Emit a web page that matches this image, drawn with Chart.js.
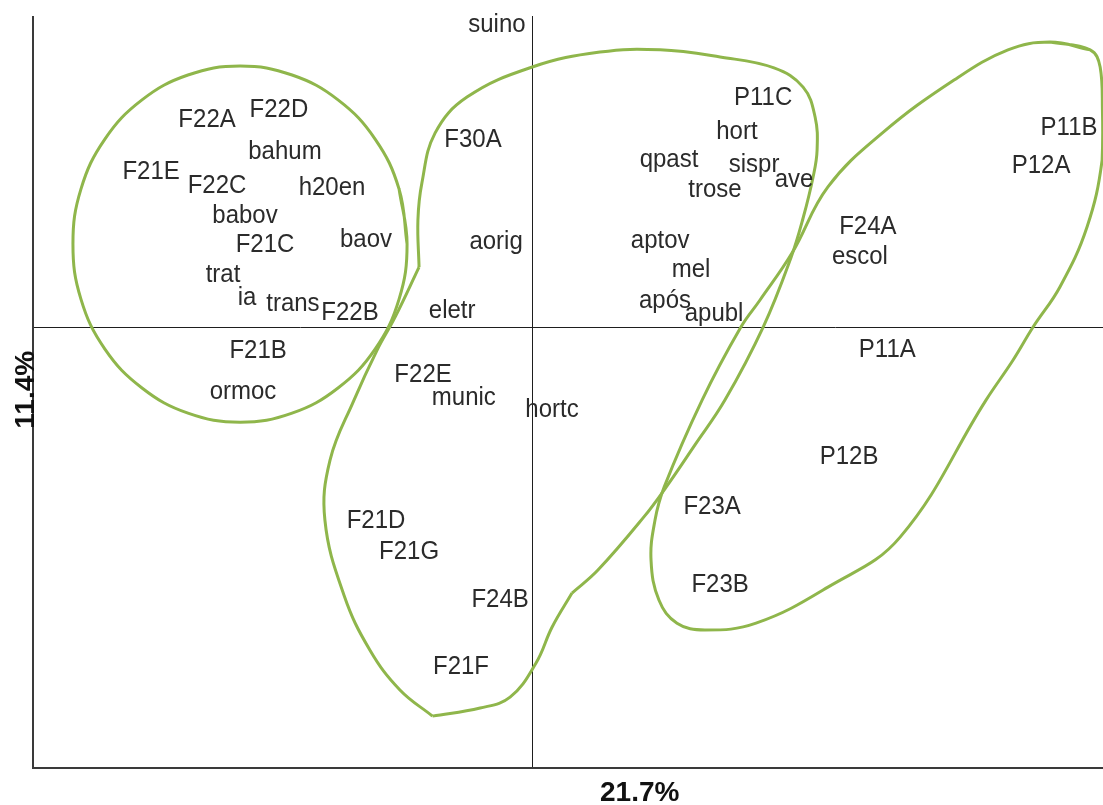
<!DOCTYPE html>
<html>
<head>
<meta charset="utf-8">
<script src="https://cdn.jsdelivr.net/npm/chart.js@4/dist/chart.umd.min.js"></script>
<style>
  html, body { margin: 0; padding: 0; background: #ffffff; }
  #wrap { width: 1103px; height: 805px; }
</style>
</head>
<body>
<div id="wrap"><canvas id="plot" width="1103" height="805"></canvas></div>
<script>
// Correspondence map: row and column points on the first two dimensions
const dimLabelX = '21.7%';
const dimLabelY = '11.4%';

const pointNames = [
  'suino', 'F22A', 'F22D', 'bahum', 'F21E', 'F22C', 'h20en', 'babov', 'F21C', 'baov',
  'trat', 'ia', 'trans', 'F22B', 'F30A', 'aorig', 'eletr', 'F21B', 'ormoc', 'F22E',
  'munic', 'hortc', 'F21D', 'F21G', 'F24B', 'F21F', 'P11C', 'hort', 'qpast', 'sispr',
  'ave', 'trose', 'aptov', 'mel', 'após', 'apubl', 'F24A', 'escol', 'P11B', 'P12A',
  'P11A', 'P12B', 'F23A', 'F23B'
];
const dim1 = [
  -0.124, -1.140, -0.888, -0.867, -1.336, -1.105, -0.702, -1.007, -0.937, -0.583,
  -1.084, -1.000, -0.839, -0.639, -0.208, -0.127, -0.281, -0.961, -1.014, -0.383,
  -0.240, 0.069, -0.548, -0.432, -0.113, -0.250, 0.809, 0.717, 0.479, 0.777,
  0.917, 0.640, 0.448, 0.556, 0.465, 0.637, 1.176, 1.148, 1.881, 1.783,
  1.244, 1.110, 0.630, 0.658
];
const dim2 = [
  0.971, 0.667, 0.697, 0.562, 0.498, 0.453, 0.447, 0.356, 0.263, 0.279,
  0.166, 0.092, 0.073, 0.044, 0.601, 0.273, 0.051, -0.078, -0.210, -0.155,
  -0.229, -0.268, -0.625, -0.725, -0.880, -1.095, 0.736, 0.627, 0.536, 0.520,
  0.472, 0.440, 0.276, 0.182, 0.083, 0.041, 0.321, 0.224, 0.640, 0.517,
  -0.075, -0.419, -0.580, -0.831
];

// Hand-drawn group outlines (dimension units)
// Group A: round loop on the left
const groupAX = [-0.439, -0.467, -0.551, -0.681, -0.842, -1.024, -1.207, -1.368, -1.498, -1.582,
                 -1.610, -1.582, -1.498, -1.368, -1.207, -1.024, -0.842, -0.681, -0.551, -0.467,
                 -0.439, -0.467];
const groupAY = [0.266, 0.443, 0.604, 0.730, 0.810, 0.839, 0.810, 0.730, 0.604, 0.443,
                 0.266, 0.089, -0.072, -0.197, -0.278, -0.307, -0.278, -0.197, -0.072, 0.089,
                 0.266, 0.443];

// Group B: central lasso, drawn in three strokes meeting at its corners
const groupB1X = [-0.397, -0.401, -0.387, -0.341, -0.229, 0.000, 0.237, 0.448, 0.658, 0.847,
                  0.949, 0.991, 0.998, 0.984, 0.949, 0.907, 0.809, 0.675, 0.570, 0.469,
                  0.391, 0.230, 0.139];
const groupB1Y = [0.192, 0.343, 0.463, 0.623, 0.739, 0.836, 0.884, 0.891, 0.868, 0.833,
                  0.771, 0.675, 0.569, 0.482, 0.350, 0.224, -0.001, -0.236, -0.380, -0.516,
                  -0.612, -0.783, -0.857];
const groupB2X = [0.139, 0.069, 0.013, -0.078, -0.183, -0.350];
const groupB2Y = [-0.857, -0.967, -1.082, -1.192, -1.227, -1.253];
const groupB3X = [-0.350, -0.464, -0.569, -0.660, -0.727, -0.709, -0.625, -0.544, -0.481, -0.397];
const groupB3Y = [-1.253, -1.169, -1.041, -0.864, -0.622, -0.429, -0.236, -0.075, 0.031, 0.192];

// Group C: elongated loop on the right
const groupCX = [1.814, 1.955, 1.990, 1.998, 1.997, 1.944, 1.849, 1.755, 1.685, 1.590,
                 1.289, 1.036, 0.784, 0.605, 0.507, 0.444, 0.416, 0.430, 0.462, 0.595,
                 0.731, 0.798, 0.910, 1.036, 1.226, 1.478, 1.667, 1.814, 1.955];
const groupCY = [0.916, 0.891, 0.836, 0.697, 0.537, 0.321, 0.128, -0.001, -0.107, -0.236,
                 -0.677, -0.838, -0.954, -0.976, -0.954, -0.880, -0.751, -0.622, -0.516, -0.236,
                 -0.001, 0.086, 0.237, 0.450, 0.623, 0.794, 0.891, 0.916, 0.891];

const xRange = [-1.75, 2.0];
const yRange = [-1.42, 1.0];

const outlineColor = 'rgb(143,182,75)';
const textFont = '"Liberation Sans", Arial, sans-serif';

function pairs(xs, ys) { return xs.map((x, i) => ({ x: x, y: ys[i] })); }

// Axis frame plus the two zero reference lines
const frame = {
  id: 'frame',
  beforeDatasetsDraw(chart) {
    const { ctx, chartArea: a, scales } = chart;
    const x0 = scales.x.getPixelForValue(0);
    const y0 = scales.y.getPixelForValue(0);
    ctx.save();
    ctx.strokeStyle = '#1e1e1e';
    ctx.lineWidth = 1;
    ctx.beginPath();
    ctx.moveTo(Math.round(x0) + 0.5, a.top);
    ctx.lineTo(Math.round(x0) + 0.5, a.bottom);
    ctx.moveTo(a.left, Math.round(y0) + 0.5);
    ctx.lineTo(a.right, Math.round(y0) + 0.5);
    ctx.stroke();
    ctx.strokeStyle = '#3a3a3a';
    ctx.lineWidth = 2;
    ctx.beginPath();
    ctx.moveTo(a.left, a.top);
    ctx.lineTo(a.left, a.bottom);
    ctx.lineTo(a.right, a.bottom);
    ctx.stroke();
    ctx.restore();
  },
  afterDraw(chart) {
    const { ctx, chartArea: a } = chart;
    ctx.save();
    ctx.fillStyle = '#111';
    ctx.font = 'bold 28px ' + textFont;
    ctx.textAlign = 'center';
    ctx.textBaseline = 'middle';
    ctx.fillText(dimLabelX, a.left + 0.567 * (a.right - a.left), a.bottom + 25);
    ctx.translate(a.left - 7, a.top + 0.497 * (a.bottom - a.top));
    ctx.rotate(-Math.PI / 2);
    ctx.fillText(dimLabelY, 0, 0);
    ctx.restore();
  }
};

// Point labels drawn at each point position
const pointText = {
  id: 'pointText',
  afterDatasetsDraw(chart) {
    const { ctx } = chart;
    const meta = chart.getDatasetMeta(0);
    ctx.save();
    ctx.fillStyle = '#2b2b2b';
    ctx.font = '24px ' + textFont;
    ctx.textAlign = 'center';
    ctx.textBaseline = 'middle';
    meta.data.forEach((pt, i) => {
      ctx.save();
      ctx.translate(pt.x, pt.y);
      ctx.scale(1, 1.1);
      ctx.fillText(pointNames[i], 0, 0);
      ctx.restore();
    });
    ctx.restore();
  }
};

const outline = (xs, ys) => ({
  data: pairs(xs, ys),
  showLine: true,
  tension: 0.4,
  borderColor: outlineColor,
  borderWidth: 3,
  pointRadius: 0,
  fill: false,
  clip: false
});

new Chart(document.getElementById('plot'), {
  type: 'scatter',
  data: {
    datasets: [
      { data: pairs(dim1, dim2), pointRadius: 0, showLine: false },
      outline(groupAX, groupAY),
      outline(groupB1X, groupB1Y),
      outline(groupB2X, groupB2Y),
      outline(groupB3X, groupB3Y),
      outline(groupCX, groupCY)
    ]
  },
  options: {
    responsive: false,
    devicePixelRatio: 1,
    animation: false,
    layout: { padding: { left: 33, top: 16, right: 0, bottom: 37 } },
    plugins: { legend: { display: false }, tooltip: { enabled: false } },
    scales: {
      x: { type: 'linear', min: xRange[0], max: xRange[1], display: false },
      y: { type: 'linear', min: yRange[0], max: yRange[1], display: false }
    }
  },
  plugins: [frame, pointText]
});
</script>
</body>
</html>
